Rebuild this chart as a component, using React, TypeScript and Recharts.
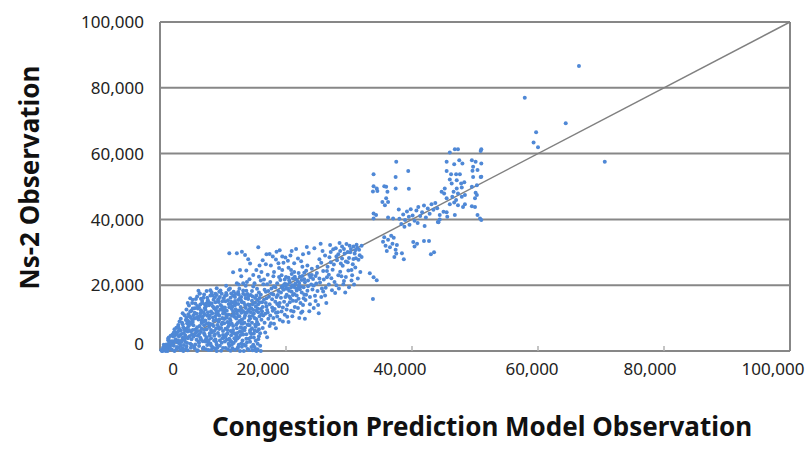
import React from "react";
import {
  CartesianGrid,
  ReferenceLine,
  Scatter,
  ScatterChart,
  XAxis,
  YAxis,
} from "recharts";

// values in thousands: [congestion model, ns-2]
const lowCluster: number[][] = [
  [0.2, 0.3], [0.5, 1.1], [0.8, 0.2], [1.0, 2.0], [0.4, 0.0], [1.2, 0.6],
  [1.5, 1.4], [1.7, 3.0], [1.9, 0.4], [2.1, 2.2], [1.4, 4.1], [2.3, 0.0], [2.0, 5.0],
  [2.5, 3.6], [2.7, 1.2], [2.9, 6.0], [2.6, 7.1], [3.0, 4.4], [2.8, 2.6], [3.2, 0.3],
  [3.4, 5.2], [3.6, 8.1], [3.8, 1.8], [3.5, 3.3], [3.9, 6.6], [4.1, 9.4], [3.7, 0.0], [4.0, 4.8],
  [4.3, 2.4], [4.5, 7.5], [4.7, 10.5], [4.4, 5.9], [4.9, 1.0], [4.6, 8.8], [5.0, 3.6], [4.8, 12.0],
  [5.2, 6.4], [5.4, 9.8], [5.6, 2.0], [5.8, 11.3], [5.3, 4.3], [5.5, 13.0], [5.9, 7.2], [6.0, 0.2],
  [6.2, 5.1], [6.4, 14.1], [6.6, 8.5], [6.3, 10.6], [6.8, 3.0], [6.5, 12.4], [7.0, 6.4], [6.9, 1.1], [6.7, 15.2],
  [7.2, 9.3], [7.4, 4.2], [7.6, 11.8], [7.3, 13.6], [7.8, 7.3], [7.5, 16.2], [8.0, 2.3], [7.9, 14.6], [7.7, 0.3],
  [8.2, 5.7], [8.4, 10.2], [8.6, 12.9], [8.3, 8.0], [8.8, 3.5], [8.5, 15.6], [9.0, 17.0], [8.9, 6.8], [8.7, 0.8], [8.1, 1.7],
  [9.2, 11.2], [9.4, 4.6], [9.6, 14.0], [9.3, 8.9], [9.8, 2.5], [9.5, 16.4], [10.0, 6.1], [9.9, 12.5], [9.7, 0.1],
  [10.2, 9.7], [10.4, 15.1], [10.6, 3.4], [10.3, 13.2], [10.8, 7.4], [10.5, 17.6], [11.0, 1.5], [10.9, 11.0], [10.7, 5.3],
  [11.2, 14.3], [11.4, 8.3], [11.6, 16.8], [11.3, 2.9], [11.8, 10.4], [11.5, 5.6], [12.0, 12.7], [11.9, 0.4], [11.7, 18.0],
  [12.2, 6.9], [12.4, 15.5], [12.6, 9.1], [12.3, 3.8], [12.8, 13.4], [12.5, 17.2], [13.0, 1.3], [12.9, 11.6], [12.7, 0.0],
  [13.2, 5.0], [13.4, 8.6], [13.6, 16.0], [13.3, 14.7], [13.8, 2.6], [13.5, 10.8], [14.0, 12.3], [13.9, 0.6], [13.7, 18.3],
  [14.2, 7.8], [14.4, 4.1], [14.6, 15.3], [14.3, 9.9], [14.8, 1.9], [14.5, 13.0], [15.0, 6.2], [14.9, 11.4], [14.7, 0.2],
  [15.2, 3.1], [15.4, 8.8], [15.6, 14.2], [15.3, 16.9], [15.8, 10.6], [15.5, 0.5], [16.0, 12.8], [15.9, 5.4],
  [0.6, 0.5], [1.1, 1.3], [1.6, 0.8], [2.2, 1.6], [2.4, 4.8], [3.1, 2.2], [3.3, 6.3], [3.1, 9.0], [3.6, 4.0],
  [4.2, 6.8], [4.2, 1.4], [4.5, 11.2], [5.1, 14.6], [5.0, 8.3], [5.7, 5.6], [5.7, 15.8], [6.1, 9.6], [6.1, 2.8],
  [6.3, 17.5], [6.6, 6.8], [6.9, 11.8], [7.1, 4.9], [7.1, 14.2], [7.4, 18.2], [7.7, 8.4], [7.7, 2.6], [8.1, 12.0],
  [8.3, 16.9], [8.6, 4.6], [8.9, 9.5], [9.1, 1.0], [9.1, 13.4], [9.4, 6.7], [9.6, 18.4], [9.9, 10.0], [10.1, 4.0],
  [10.1, 16.0], [10.4, 0.9], [10.6, 12.2], [10.9, 8.4], [11.1, 19.0], [11.2, 6.1], [11.4, 1.9], [11.6, 11.9],
  [11.9, 15.2], [12.1, 4.6], [12.1, 9.9], [12.4, 1.2], [12.7, 6.0], [12.9, 16.4], [13.1, 3.2], [13.2, 12.0],
  [13.5, 7.1], [13.9, 17.3], [14.1, 0.3], [14.2, 10.6], [14.5, 5.2], [14.8, 19.6], [15.1, 8.0], [15.2, 13.5],
  [15.5, 2.2], [15.7, 17.8], [16.0, 0.0], [6.0, 12.9], [7.9, 5.4], [4.0, 2.8], [2.0, 3.0], [8.5, 7.6], [9.8, 8.1],
  [11.0, 3.7], [12.0, 14.6], [13.0, 9.4], [14.0, 14.1], [3.0, 1.1], [5.5, 0.8], [6.4, 4.0], [7.5, 10.7], [8.8, 14.8],
  [10.2, 11.7], [11.5, 13.5], [12.6, 18.9], [13.6, 19.8], [14.4, 17.0], [5.3, 10.9], [4.7, 4.5], [2.5, 5.6],
  [1.8, 2.2], [1.2, 0.0], [0.9, 1.5], [12.5, 20.2], [13.8, 21.0], [15.0, 20.6], [16.0, 21.4], [14.2, 21.8],
  [10.5, 19.8], [9.0, 19.1], [8.0, 18.5], [6.3, 17.5], [4.8, 16.0], [7.4, 14.5], [4.4, 14.6], [2.9, 7.9], [1.3, 3.3],
  [11.0, 29.7], [12.2, 29.7], [13.0, 30.2], [13.5, 29.2], [15.6, 31.5], [12.7, 24.6], [14.3, 26.6], [15.3, 24.6],
  [14.8, 23.1], [13.2, 20.6], [12.2, 20.6],
];

const lowFill: number[][] = [
  [0.7, 0.9], [1.9, 1.8], [2.6, 0.5], [3.4, 2.7], [4.1, 0.6], [4.8, 2.2], [5.4, 1.3], [6.2, 2.5], [6.8, 0.7],
  [7.5, 1.8], [8.2, 0.4], [8.9, 2.7], [9.5, 1.6], [10.3, 2.9], [10.8, 0.5], [11.7, 2.4], [12.3, 0.8], [12.9, 2.3],
  [13.6, 1.6], [14.3, 2.8], [15.0, 1.2], [15.3, 0.0], [5.9, 0.0], [9.0, 0.0], [11.2, 0.1], [13.3, 0.0], [3.6, 0.8], [7.2, 2.9],
  [1.3, 3.8], [2.1, 4.4], [2.9, 3.2], [3.8, 5.5], [4.4, 3.9], [5.1, 5.1], [5.8, 3.4], [6.5, 5.8], [7.3, 3.6],
  [7.9, 4.7], [8.6, 3.2], [9.2, 5.5], [9.9, 3.9], [10.5, 5.0], [11.1, 3.3], [11.8, 5.4], [12.5, 4.2], [13.0, 5.8],
  [13.7, 3.7], [14.3, 5.6], [14.9, 4.1], [15.6, 3.6], [6.0, 4.6], [8.1, 3.9], [10.0, 4.9], [12.0, 3.1], [3.2, 4.9], [4.9, 5.9],
  [2.3, 6.6], [2.9, 7.4], [3.5, 8.6], [4.0, 6.2], [4.6, 7.9], [5.2, 8.8], [5.6, 6.5], [6.3, 7.6], [6.9, 8.9],
  [7.4, 6.6], [8.0, 8.2], [8.6, 6.1], [9.3, 7.3], [9.9, 8.7], [10.4, 6.8], [11.0, 7.9], [11.6, 6.4], [12.3, 8.5],
  [12.8, 7.2], [13.4, 6.3], [14.0, 8.0], [14.6, 6.9], [15.2, 7.4], [15.7, 6.6], [7.0, 7.8], [10.7, 8.8], [13.1, 8.3], [4.3, 8.4],
  [3.3, 9.8], [3.9, 10.9], [4.4, 9.3], [4.9, 10.1], [5.5, 11.6], [6.0, 10.3], [6.6, 9.2], [7.1, 11.1], [7.8, 9.9],
  [8.3, 11.5], [8.8, 10.6], [9.4, 9.6], [10.0, 11.4], [10.6, 10.1], [11.2, 9.2], [11.7, 11.1], [12.4, 10.6], [13.0, 9.6],
  [13.5, 11.7], [14.1, 9.2], [14.7, 10.7], [15.3, 9.7], [15.6, 11.8], [6.8, 10.6], [9.2, 12.0], [12.2, 11.4], [3.6, 11.5], [5.1, 9.5],
  [4.2, 12.6], [4.6, 13.8], [5.0, 12.2], [5.6, 14.4], [6.2, 13.2], [6.7, 14.6], [7.2, 12.6], [7.8, 13.9], [8.2, 14.4],
  [8.7, 13.0], [9.3, 14.9], [9.8, 13.6], [10.4, 12.4], [10.9, 14.3], [11.4, 12.8], [11.9, 13.9], [12.5, 12.3], [13.0, 14.8],
  [13.6, 13.1], [14.2, 12.8], [14.7, 14.2], [15.3, 12.2], [15.8, 14.8], [6.6, 12.0], [8.9, 12.4], [11.3, 15.0],
  [5.2, 15.6], [5.9, 16.6], [6.5, 15.9], [7.0, 17.2], [7.6, 15.4], [8.2, 17.8], [8.7, 16.3], [9.2, 15.5], [9.8, 17.4],
  [10.3, 16.7], [10.8, 15.4], [11.3, 17.5], [11.9, 16.4], [12.4, 17.9], [12.9, 15.3], [13.5, 17.0], [14.0, 15.8],
  [14.6, 18.2], [15.1, 16.1], [6.1, 18.3], [9.4, 18.0], [10.9, 18.6], [13.2, 18.4], [15.5, 15.5],
  [0.3, 0.0], [0.9, 0.0], [1.4, 2.3], [2.2, 5.6], [1.7, 4.6], [0.6, 1.9],
  [1.0, 0.4], [1.6, 2.6], [2.4, 3.0], [2.7, 5.2], [3.0, 6.9], [3.3, 1.6], [3.7, 7.2], [3.9, 3.8], [4.2, 10.2],
  [4.4, 0.2], [4.6, 6.4], [4.8, 8.6], [5.0, 1.9], [5.2, 12.9], [5.3, 7.8], [5.5, 4.8], [5.7, 10.0], [5.9, 13.7],
  [6.0, 6.1], [6.2, 1.5], [6.4, 11.4], [6.5, 3.6], [6.7, 9.9], [6.9, 16.2], [7.0, 5.3], [7.1, 13.1], [7.3, 0.5],
  [7.4, 8.3], [7.6, 14.9], [7.7, 3.3], [7.9, 10.8], [8.0, 16.9], [8.1, 6.4], [8.3, 1.2], [8.4, 13.5], [8.5, 9.2],
  [8.7, 5.0], [8.8, 17.4], [8.9, 11.5], [9.0, 2.0], [9.1, 7.9], [9.3, 15.8], [9.4, 10.8], [9.5, 3.2], [9.6, 12.6],
  [9.7, 7.0], [9.9, 15.1], [10.0, 0.9], [10.1, 13.1], [10.2, 8.4], [10.4, 4.4], [10.5, 11.0], [10.6, 17.0], [10.7, 6.4],
  [10.9, 2.2], [11.0, 13.3], [11.1, 9.7], [11.2, 16.2], [11.3, 4.8], [11.4, 10.7], [11.5, 0.8], [11.6, 7.6], [11.7, 14.6],
  [11.8, 3.9], [12.0, 17.3], [12.1, 8.0], [12.2, 12.2], [12.3, 5.5], [12.4, 14.3], [12.5, 1.9], [12.6, 10.6], [12.7, 16.1],
  [12.8, 4.9], [12.9, 8.4], [13.0, 12.4], [13.1, 6.9], [13.2, 17.4], [13.3, 2.0], [13.4, 10.1], [13.5, 14.0], [13.7, 5.1],
  [13.8, 11.6], [13.9, 8.0], [14.0, 16.6], [14.1, 3.7], [14.2, 13.8], [14.3, 6.3], [14.4, 11.8], [14.5, 1.2], [14.6, 8.6],
  [14.7, 16.6], [14.8, 12.5], [14.9, 5.3], [15.0, 10.0], [15.1, 14.7], [15.2, 0.5], [15.4, 6.0], [15.5, 12.9], [15.6, 8.1],
  [15.7, 4.5], [15.8, 16.1], [15.9, 1.6],
];

const midBand: number[][] = [
  [16.3, 7.0], [16.6, 18.6], [16.9, 13.5], [17.2, 9.8], [17.5, 21.0], [17.8, 15.7], [16.1, 24.0], [17.0, 4.2],
  [17.4, 29.5], [16.7, 11.3], [18.0, 17.2], [17.6, 26.0], [16.4, 20.3], [17.9, 12.2],
  [18.3, 19.4], [18.6, 14.3], [18.9, 22.5], [19.2, 17.8], [19.5, 9.0], [19.8, 20.4], [18.4, 27.8], [19.0, 30.6],
  [18.7, 11.8], [19.4, 24.6], [20.0, 18.9], [19.7, 15.0], [18.1, 8.3], [19.1, 21.6], [19.9, 28.4],
  [20.2, 20.1], [20.5, 16.6], [20.8, 19.3], [21.1, 22.0], [21.4, 13.4], [21.7, 18.4], [20.4, 25.3], [21.0, 10.6],
  [21.9, 21.2], [20.7, 29.0], [21.3, 26.7], [22.0, 15.9], [20.1, 12.6], [21.6, 31.0], [20.9, 23.4],
  [22.3, 19.6], [22.6, 12.0], [22.9, 23.8], [23.2, 17.1], [23.5, 21.4], [23.8, 14.2], [22.4, 27.3], [23.0, 9.8],
  [23.6, 29.8], [24.0, 20.2], [22.8, 16.0], [23.3, 31.6], [24.1, 25.0], [22.2, 22.6],
  [24.4, 13.1], [24.7, 22.8], [25.0, 18.2], [25.3, 27.9], [25.6, 16.4], [25.9, 24.3], [24.5, 31.2], [25.2, 11.5],
  [25.8, 30.4], [24.8, 20.5], [26.0, 21.7], [25.5, 32.6],
  [26.3, 19.2], [26.6, 25.6], [26.9, 28.5], [27.2, 22.1], [27.5, 30.9], [27.8, 17.6], [26.4, 14.6], [27.0, 32.2],
  [27.6, 26.3], [28.0, 20.0], [26.8, 23.2], [27.3, 18.5],
  [28.3, 29.4], [28.6, 24.1], [28.9, 31.8], [29.2, 21.3], [29.5, 27.2], [29.8, 30.1], [28.4, 19.0], [29.0, 25.9],
  [29.6, 32.5], [30.0, 28.3], [28.8, 22.7], [29.4, 17.8],
  [30.3, 31.0], [30.6, 26.4], [30.9, 29.6], [31.2, 32.3], [31.5, 27.7], [30.5, 23.0], [31.0, 30.6], [31.4, 22.0],
  [19.3, 19.5], [19.6, 18.6], [20.3, 19.0], [20.6, 20.8], [20.9, 18.0], [21.2, 19.8], [21.5, 20.5], [19.8, 21.7],
  [20.0, 20.3], [21.8, 19.0], [22.1, 20.7], [18.8, 18.2], [18.5, 16.4], [17.3, 16.5], [17.7, 19.0], [16.9, 16.0],
  [16.2, 14.8], [18.2, 12.8], [19.5, 13.2], [20.6, 14.8], [22.5, 17.8], [23.0, 20.9], [23.9, 22.4], [24.6, 16.8],
  [25.4, 20.8], [24.2, 18.7], [22.7, 14.0], [21.6, 15.2], [18.0, 22.7], [17.1, 23.2], [16.5, 21.7], [16.8, 26.4],
  [18.9, 25.2], [19.6, 26.8], [20.3, 27.4], [22.6, 25.6], [23.4, 26.0], [21.9, 28.1], [15.7, 22.6], [15.4, 18.9],
  [16.1, 9.5], [17.4, 7.6], [18.6, 10.5], [20.4, 8.8], [22.1, 10.0], [23.7, 12.1], [25.1, 14.0], [26.2, 16.9],
  [27.1, 27.0], [28.1, 27.6], [28.7, 26.6], [29.3, 29.6], [30.2, 30.0], [30.7, 31.8], [29.9, 24.5], [28.5, 32.8],
  [27.9, 31.2], [31.6, 30.8], [31.1, 28.2], [30.4, 21.4], [30.8, 20.2], [30.0, 19.4], [29.1, 20.3],
  [16.9, 29.4], [18.5, 30.2],
  [16.2, 12.1], [16.5, 15.6], [16.8, 18.0], [17.1, 11.7], [17.4, 14.2], [17.7, 17.4], [18.0, 10.0], [18.3, 15.0],
  [18.6, 20.6], [18.9, 13.6], [19.2, 16.2], [19.5, 19.1], [19.8, 11.0], [20.1, 17.1], [20.4, 22.3], [20.7, 16.0],
  [21.0, 20.0], [21.3, 17.3], [21.6, 21.8], [21.9, 13.1], [22.2, 18.8], [22.5, 21.6], [22.8, 19.4], [23.1, 15.5],
  [23.4, 18.3], [23.7, 23.1], [16.4, 10.8], [16.7, 5.6], [17.6, 8.4], [18.4, 6.9], [19.0, 9.5], [20.2, 10.4],
  [21.2, 12.0], [22.4, 11.6], [16.0, 17.1], [17.0, 20.3], [18.1, 24.0], [19.3, 23.0], [20.8, 24.6], [22.0, 23.7],
  [21.1, 17.0], [20.5, 21.5], [19.9, 19.8], [21.4, 19.3], [20.0, 22.5], [22.9, 21.8], [24.3, 21.9], [24.9, 23.7],
  [25.7, 19.0], [26.5, 22.4], [17.9, 28.7], [16.3, 27.6], [14.0, 27.9], [20.9, 30.4], [22.7, 29.4], [18.8, 26.7],
  [15.8, 26.0], [13.7, 24.5], [12.9, 22.7], [11.6, 23.9], [19.4, 28.7], [21.3, 24.0],
  [16.1, 11.2], [16.3, 13.4], [16.6, 8.6], [16.8, 14.6], [17.0, 12.5], [17.2, 18.2], [17.5, 10.8], [17.8, 13.2],
  [18.1, 19.6], [18.4, 11.6], [18.7, 17.0], [19.0, 14.6], [19.3, 12.0], [19.6, 20.0], [19.9, 16.4], [20.2, 14.0],
  [20.5, 18.3], [20.8, 12.2], [21.1, 15.3], [21.4, 22.6], [21.7, 16.9], [22.0, 19.8], [22.3, 14.6], [22.6, 22.8],
  [22.9, 17.2], [23.2, 24.4], [23.5, 19.7], [23.8, 16.4], [24.1, 23.1], [24.4, 19.9], [24.7, 15.2], [25.0, 25.6],
  [25.3, 22.0], [25.6, 26.8], [25.9, 18.1], [26.2, 29.0], [26.5, 24.3], [26.8, 20.2], [27.1, 30.1], [27.4, 24.7],
  [27.7, 21.0], [28.0, 28.7], [28.3, 23.0], [28.6, 30.4], [28.9, 28.1], [29.2, 31.0], [29.5, 22.5], [29.8, 27.0],
  [30.1, 32.0], [30.4, 24.6], [30.7, 28.0], [31.0, 25.4], [31.3, 31.4], [31.7, 29.1], [32.0, 32.0], [32.0, 28.6],
  [31.8, 24.0],
];

const upperBand: number[][] = [
  [33.8, 15.8], [33.3, 23.6], [33.9, 22.4], [34.4, 21.5],
  [35.4, 33.2], [35.8, 32.0], [36.2, 33.8], [36.5, 31.5], [36.9, 32.6], [37.1, 34.4], [37.4, 30.8], [36.0, 30.4],
  [36.7, 35.0], [37.6, 32.2], [35.6, 34.6], [37.2, 28.6], [37.5, 29.6], [38.4, 29.7], [38.7, 27.9],
  [38.0, 40.2], [38.3, 38.6], [38.6, 41.5], [38.9, 39.8], [39.2, 42.4], [39.5, 40.8], [39.8, 43.1], [40.1, 41.2],
  [40.4, 39.6], [40.7, 42.7], [41.0, 43.8], [41.3, 41.0], [41.6, 42.2], [41.9, 44.2], [42.2, 40.6], [42.5, 43.3],
  [42.8, 41.7], [43.1, 44.6], [43.4, 42.9], [43.7, 45.0], [44.0, 43.4], [38.8, 37.8], [39.6, 38.4], [40.9, 38.9],
  [44.4, 41.3], [37.9, 43.0], [42.0, 38.0], [44.1, 39.2], [45.5, 42.2],
  [40.2, 33.1], [40.8, 32.6], [41.9, 33.4], [42.7, 33.4], [43.0, 29.4], [43.5, 30.0], [40.4, 31.8],
  [33.9, 53.7], [33.9, 50.1], [33.8, 48.5], [34.4, 49.4], [34.5, 48.6], [35.6, 50.1], [35.9, 49.9], [36.1, 48.4],
  [37.5, 57.5], [37.4, 52.9], [37.4, 49.4], [39.4, 54.7], [39.5, 49.3], [35.3, 45.3], [35.9, 46.4], [36.2, 45.3],
  [35.7, 44.3], [33.9, 41.8], [34.3, 41.3], [33.9, 40.3], [36.2, 40.6], [37.0, 40.3],
  [46.0, 60.3], [46.8, 61.3], [47.3, 61.3], [45.5, 57.5], [47.5, 58.0], [48.0, 57.0], [46.7, 56.8], [49.5, 58.0],
  [50.1, 57.5], [51.0, 61.3], [50.9, 60.8], [51.0, 57.0], [49.7, 56.0], [49.6, 54.8], [50.4, 55.0], [45.5, 54.7],
  [46.2, 53.7], [47.0, 53.7], [47.6, 53.7], [46.0, 52.1], [47.1, 51.9], [47.8, 50.9], [48.3, 51.3], [50.9, 52.9],
  [49.7, 52.9], [46.3, 50.9], [50.3, 50.4], [49.5, 49.9], [45.2, 49.4], [47.1, 49.4], [47.9, 49.7], [44.7, 48.4],
  [45.1, 47.9], [46.6, 48.4], [47.3, 47.9], [48.4, 47.4], [50.1, 48.1], [45.5, 46.4], [46.4, 46.9], [47.0, 45.9],
  [47.9, 46.9], [50.0, 46.4], [50.3, 47.4], [46.0, 44.6], [46.7, 45.1], [47.3, 44.3], [48.1, 43.8], [48.4, 44.6],
  [49.5, 44.0], [50.0, 43.8], [45.0, 42.3], [45.6, 40.8], [46.8, 41.3], [50.4, 41.3], [50.8, 40.3], [51.0, 39.8],
  [44.2, 39.1], [44.4, 40.0], [51.0, 53.0],
];

const outliers: number[][] = [
  [57.9, 77.0], [64.4, 69.2], [59.7, 66.5], [59.3, 63.4], [60.0, 61.9], [70.6, 57.5], [66.5, 86.6],
];

const axisTicks = [0, 20000, 40000, 60000, 80000, 100000];
// the source's x labels sit slightly off their ticks
const xLabelShift = [13, -23, -12, -6, -14, -17];

const points = [...lowCluster, ...lowFill, ...midBand, ...upperBand, ...outliers].map(([x, y]) => ({
  x: x * 1000,
  y: y * 1000,
}));

const FONT = "'Noto Sans', 'Open Sans', sans-serif";
const GRID = "#878787";
const DOT = "#4f88d6";
const fmt = (v: number) => v.toLocaleString("en-US");

const XTick = (props: any) => {
  const { x, y, payload, index } = props;
  const v = payload.value;
  const axisY = y - 12;
  return (
    <g>
      {v > 0 && v < 100000 && (
        <line x1={x} x2={x} y1={axisY} y2={axisY - 5} stroke="#b0b0b0" strokeWidth={1.5} />
      )}
      <text
        x={x + (xLabelShift[index] ?? 0)}
        y={y}
        dy="0.71em"
        textAnchor="middle"
        fontSize={17}
        fill="#222"
        fontFamily={FONT}
      >
        {fmt(v)}
      </text>
    </g>
  );
};

const YTick = (props: any) => {
  const { x, y, payload } = props;
  const v = payload.value;
  return (
    <text
      x={x}
      y={v === 0 ? y - 7 : y}
      dy="0.36em"
      textAnchor="end"
      fontSize={17}
      fill="#222"
      fontFamily={FONT}
    >
      {fmt(v)}
    </text>
  );
};

const Dot = (props: any) => <circle cx={props.cx} cy={props.cy} r={2} fill={DOT} />;

export default function App() {
  return (
    <div style={{ position: "absolute", left: 0, top: 0, width: 807, height: 472, background: "#fff" }}>
      <ScatterChart width={807} height={472} margin={{ top: 22, right: 17, bottom: 0, left: 0 }}>
        <CartesianGrid vertical={false} stroke={GRID} strokeWidth={2} />
        <XAxis
          type="number"
          dataKey="x"
          domain={[0, 100000]}
          ticks={axisTicks}
          interval={0}
          height={121}
          tickSize={0}
          tickMargin={12}
          tickLine={false}
          axisLine={{ stroke: GRID, strokeWidth: 2 }}
          tick={<XTick />}
          label={(p: any) => {
            const vb = p.viewBox;
            return (
              <text
                x={vb.x + vb.width / 2 + 7}
                y={vb.y + vb.height - 36}
                textAnchor="middle"
                fontSize={26}
                fontWeight="bold"
                fill="#111"
                fontFamily={FONT}
              >
                Congestion Prediction Model Observation
              </text>
            );
          }}
        />
        <YAxis
          type="number"
          dataKey="y"
          domain={[0, 100000]}
          ticks={axisTicks}
          interval={0}
          width={160}
          tickSize={0}
          tickMargin={16}
          tickLine={false}
          axisLine={{ stroke: GRID, strokeWidth: 2 }}
          tick={<YTick />}
          label={(p: any) => {
            const vb = p.viewBox;
            const cx = 39;
            const cy = vb.y + vb.height / 2 - 9;
            return (
              <text
                x={cx}
                y={cy}
                transform={`rotate(-90 ${cx} ${cy})`}
                textAnchor="middle"
                fontSize={26}
                fontWeight="bold"
                fill="#111"
                fontFamily={FONT}
              >
                Ns-2 Observation
              </text>
            );
          }}
        />
        <ReferenceLine x={100000} stroke={GRID} strokeWidth={2} />
        <ReferenceLine
          segment={[
            { x: 0, y: 0 },
            { x: 100000, y: 100000 },
          ]}
          stroke="#808080"
          strokeWidth={1.5}
        />
        <Scatter data={points} shape={<Dot />} isAnimationActive={false} />
      </ScatterChart>
    </div>
  );
}
